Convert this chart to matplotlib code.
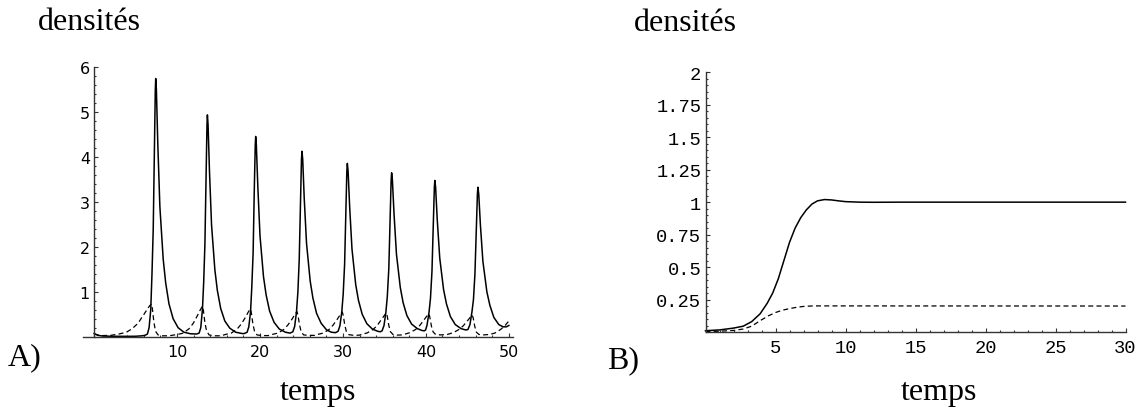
import matplotlib
matplotlib.use("Agg")
import matplotlib.pyplot as plt
from matplotlib.ticker import FixedLocator, MultipleLocator

# A) oscillations amorties (trait plein / tirets)
tA_solid = [0, 0.5, 1.0, 2.0, 3.0, 4.0, 5.0, 5.8,
            6.13, 6.43, 6.63, 6.83, 6.98, 7.13, 7.28, 7.38, 7.43, 7.51, 7.68, 7.93, 8.33, 8.63, 9.03, 9.53, 10.13, 10.83, 11.63,
            12.36, 12.66, 12.86, 13.06, 13.21, 13.36, 13.51, 13.61, 13.66, 13.74, 13.91, 14.16, 14.56, 14.86, 15.26, 15.76, 16.36, 17.06, 17.86,
            18.1, 18.45, 18.65, 18.86, 19.01, 19.17, 19.32, 19.43, 19.48, 19.56, 19.74, 20.0, 20.42, 20.74, 21.16, 21.7, 22.33, 23.06,
            23.63, 23.96, 24.18, 24.4, 24.57, 24.73, 24.9, 25.0, 25.06, 25.15, 25.33, 25.61, 26.05, 26.38, 26.82, 27.37, 28.03, 28.6,
            29.1, 29.41, 29.63, 29.86, 30.03, 30.2, 30.36, 30.47, 30.53, 30.62, 30.81, 31.09, 31.54, 31.87, 32.32, 32.88, 33.55, 34.2,
            34.5, 34.72, 34.95, 35.18, 35.35, 35.53, 35.7, 35.81, 35.87, 35.96, 36.16, 36.45, 36.91, 37.25, 37.71, 38.28, 38.97, 39.5,
            39.8, 39.96, 40.14, 40.38, 40.55, 40.73, 40.9, 41.02, 41.08, 41.17, 41.37, 41.67, 42.13, 42.48, 42.95, 43.54, 44.24, 44.8,
            45.07, 45.31, 45.55, 45.73, 45.91, 46.09, 46.21, 46.27, 46.37, 46.57, 46.87, 47.35, 47.71, 48.19, 48.79, 49.3, 49.7, 50.0]
yA_solid = [0.07, 0.03, 0.015, 0.01, 0.008, 0.008, 0.01, 0.02,
            0.03, 0.06, 0.2, 0.6, 1.4, 2.4, 4.3, 5.5, 5.75, 5.5, 4.3, 2.9, 1.73, 1.2, 0.73, 0.4, 0.2, 0.1, 0.065,
            0.06, 0.08, 0.2, 0.6, 1.2, 2.06, 3.69, 4.72, 4.94, 4.72, 3.69, 2.49, 1.49, 1.03, 0.63, 0.35, 0.19, 0.1, 0.07,
            0.07, 0.1, 0.22, 0.55, 1.1, 1.86, 3.34, 4.27, 4.46, 4.27, 3.34, 2.25, 1.34, 0.93, 0.57, 0.32, 0.17, 0.1,
            0.08, 0.11, 0.23, 0.55, 1.0, 1.72, 3.09, 3.95, 4.13, 3.95, 3.09, 2.08, 1.24, 0.86, 0.52, 0.3, 0.15, 0.1,
            0.09, 0.12, 0.24, 0.55, 0.95, 1.61, 2.89, 3.69, 3.86, 3.69, 2.89, 1.95, 1.16, 0.81, 0.5, 0.29, 0.17, 0.12,
            0.11, 0.13, 0.25, 0.55, 0.9, 1.52, 2.73, 3.49, 3.65, 3.49, 2.73, 1.84, 1.1, 0.76, 0.47, 0.28, 0.18, 0.14,
            0.13, 0.15, 0.26, 0.55, 0.85, 1.45, 2.6, 3.33, 3.48, 3.33, 2.6, 1.75, 1.05, 0.73, 0.45, 0.27, 0.18, 0.15,
            0.16, 0.27, 0.55, 0.82, 1.39, 2.49, 3.18, 3.33, 3.18, 2.49, 1.68, 1.0, 0.7, 0.43, 0.27, 0.22, 0.22, 0.25]

tA_dash = [0, 0.5, 1.0, 2.0, 3.0, 3.9, 4.6, 5.3, 5.8, 6.3, 6.66, 6.91, 7.03, 7.21, 7.41, 7.71, 8.2, 9.0,
           10.06, 10.76, 11.46, 11.96, 12.46, 12.81, 13.06, 13.18, 13.36, 13.56, 13.86, 14.4, 15.3,
           15.84, 16.54, 17.24, 17.74, 18.24, 18.59, 18.84, 18.96, 19.14, 19.34, 19.64, 20.2, 21.0,
           21.46, 22.16, 22.86, 23.36, 23.86, 24.21, 24.46, 24.58, 24.76, 24.96, 25.26, 25.8, 26.6,
           26.92, 27.62, 28.32, 28.82, 29.32, 29.67, 29.92, 30.04, 30.22, 30.42, 30.72, 31.3, 32.0,
           32.23, 32.93, 33.63, 34.13, 34.63, 34.98, 35.23, 35.35, 35.53, 35.73, 36.03, 36.6, 37.1,
           37.36, 38.06, 38.76, 39.26, 39.76, 40.11, 40.36, 40.48, 40.66, 40.86, 41.16, 41.7, 42.3,
           42.59, 43.29, 43.99, 44.49, 44.99, 45.34, 45.59, 45.71, 45.89, 46.09, 46.39, 46.9, 47.7, 48.3, 49.0, 49.5, 50.0]
yA_dash = [0.06, 0.035, 0.025, 0.03, 0.06, 0.1, 0.18, 0.3, 0.44, 0.58, 0.68, 0.73, 0.62, 0.32, 0.12, 0.04, 0.02, 0.02,
           0.05, 0.08, 0.18, 0.3, 0.47, 0.6, 0.68, 0.58, 0.31, 0.13, 0.04, 0.02, 0.02,
           0.05, 0.08, 0.17, 0.28, 0.43, 0.55, 0.62, 0.53, 0.29, 0.12, 0.04, 0.025, 0.025,
           0.05, 0.08, 0.16, 0.26, 0.39, 0.5, 0.56, 0.48, 0.27, 0.11, 0.04, 0.03, 0.03,
           0.05, 0.08, 0.16, 0.26, 0.39, 0.49, 0.55, 0.47, 0.26, 0.11, 0.045, 0.03, 0.035,
           0.05, 0.085, 0.16, 0.25, 0.38, 0.47, 0.53, 0.45, 0.25, 0.11, 0.05, 0.035, 0.04,
           0.05, 0.09, 0.16, 0.25, 0.37, 0.46, 0.51, 0.43, 0.24, 0.11, 0.05, 0.04, 0.045,
           0.05, 0.09, 0.16, 0.24, 0.35, 0.43, 0.48, 0.41, 0.23, 0.1, 0.05, 0.04, 0.05, 0.08, 0.16, 0.24, 0.35]

# B) convergence vers l'equilibre
tB_solid = [0, 1, 2, 2.7, 3.3, 3.9, 4.4, 4.8, 5.2, 5.6, 6.0, 6.4, 6.8, 7.2, 7.6, 8.0, 8.5, 9.0, 9.5, 10.0, 11, 12, 14, 30]
yB_solid = [0.01, 0.016, 0.03, 0.045, 0.08, 0.14, 0.22, 0.3, 0.41, 0.55, 0.69, 0.8, 0.88, 0.94, 0.985, 1.01, 1.02,
            1.017, 1.01, 1.004, 1.0, 0.999, 1.0, 1.0]
tB_dash = [0, 1, 2, 2.7, 3.3, 3.9, 4.5, 5.0, 5.5, 6.0, 6.5, 7.0, 7.5, 8.0, 30]
yB_dash = [0.003, 0.006, 0.012, 0.023, 0.045, 0.087, 0.125, 0.15, 0.168, 0.18, 0.19, 0.197, 0.2, 0.201, 0.2]

A_xticks = [10, 20, 30, 40, 50]
A_yticks = [1, 2, 3, 4, 5, 6]
B_xticks = [5, 10, 15, 20, 25, 30]
B_yticks = [0.25, 0.5, 0.75, 1, 1.25, 1.5, 1.75, 2]
B_ylabels = ['0.25', '0.5', '0.75', '1', '1.25', '1.5', '1.75', '2']

W, H = 1143, 410
fig = plt.figure(figsize=(W / 100, H / 100), dpi=100)
serif = 'Liberation Serif'


def style_axes(ax, tickfont, fs):
    for s in ['top', 'right']:
        ax.spines[s].set_visible(False)
    ax.spines['left'].set_position(('data', 0))
    for s in ['left', 'bottom']:
        ax.spines[s].set_color('#333333')
        ax.spines[s].set_linewidth(1.0)
    ax.tick_params(which='both', direction='in', color='#333333', width=0.8)
    ax.tick_params(which='major', length=3)
    ax.tick_params(which='minor', length=1.6)
    ax.tick_params(axis='y', pad=3)
    ax.tick_params(axis='x', pad=5)
    for lab in ax.get_xticklabels() + ax.get_yticklabels():
        lab.set_fontfamily(tickfont)
        lab.set_fontsize(fs)


# ---- A ----
axA = fig.add_axes([83.3 / W, 1 - 337.7 / H, (513 - 83.3) / W, (337.7 - 68.3) / H])
axA.plot(tA_solid, yA_solid, color='black', lw=1.1)
axA.plot(tA_dash, yA_dash, color='black', lw=0.9, dashes=(4, 2.6))
axA.set_xlim(-1.3, 50.5)
axA.set_ylim(0, 6)
axA.xaxis.set_major_locator(FixedLocator(A_xticks))
axA.xaxis.set_minor_locator(MultipleLocator(2))
axA.yaxis.set_major_locator(FixedLocator(A_yticks))
axA.yaxis.set_minor_locator(MultipleLocator(0.2))
axA.set_xticklabels([str(v) for v in A_xticks])
axA.set_yticklabels([str(v) for v in A_yticks])
style_axes(axA, 'DejaVu Sans', 11.5)

# ---- B ----
axB = fig.add_axes([705.5 / W, 1 - 333 / H, 420 / W, (333 - 73.3) / H])
axB.plot(tB_solid, yB_solid, color='black', lw=1.1)
axB.plot(tB_dash, yB_dash, color='black', lw=0.9, dashes=(4, 2.6))
axB.set_xlim(0, 30)
axB.set_ylim(0, 2)
axB.xaxis.set_major_locator(FixedLocator(B_xticks))
axB.xaxis.set_minor_locator(MultipleLocator(1))
axB.yaxis.set_major_locator(FixedLocator(B_yticks))
axB.yaxis.set_minor_locator(MultipleLocator(0.05))
axB.set_xticklabels([str(v) for v in B_xticks])
axB.set_yticklabels(B_ylabels)
style_axes(axB, 'Liberation Mono', 13.5)
for ax in (axA, axB):
    for line in ax.lines:
        line.set_clip_on(False)

# textes
fig.text(38 / W, 1 - 30 / H, 'densités', family=serif, fontsize=23, va='baseline')
fig.text(634 / W, 1 - 31 / H, 'densités', family=serif, fontsize=23, va='baseline')
fig.text(318 / W, 1 - 400 / H, 'temps', family=serif, fontsize=23, va='baseline', ha='center')
fig.text(939 / W, 1 - 400 / H, 'temps', family=serif, fontsize=23, va='baseline', ha='center')
fig.text(8 / W, 1 - 365 / H, 'A)', family=serif, fontsize=23, va='baseline')
fig.text(607 / W, 1 - 368 / H, 'B)', family=serif, fontsize=23, va='baseline')

fig.savefig('out.png', dpi=100)
